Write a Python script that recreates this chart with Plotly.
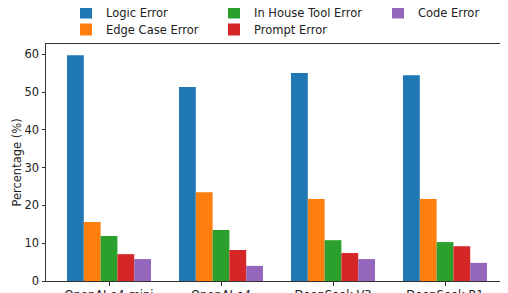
import plotly.graph_objects as go

models = ["OpenAI o4-mini", "OpenAI o4", "DeepSeek V3", "DeepSeek R1"]
logic_error = [59.7, 51.3, 55.0, 54.4]
edge_case_error = [15.6, 23.5, 21.7, 21.7]
in_house_tool_error = [11.9, 13.5, 10.8, 10.3]
prompt_error = [7.1, 8.2, 7.4, 9.2]
code_error = [5.8, 4.0, 5.8, 4.8]

series = [
    ("Logic Error", logic_error, "#1f77b4"),
    ("Edge Case Error", edge_case_error, "#ff7f0e"),
    ("In House Tool Error", in_house_tool_error, "#2ca02c"),
    ("Prompt Error", prompt_error, "#d62728"),
    ("Code Error", code_error, "#9467bd"),
]
# legend slots (matplotlib ncol=3, column-major): text left x, row
legend_slots = [(107, 0), (107, 1), (255, 0), (255, 1), (419, 0)]

FONT = "DejaVu Sans"
FS = 11.5
OFF = 8  # default page body margin
FW, FH = 508 - OFF, 293 - OFF
L, T, B = 46 - OFF, 44 - OFF, 281 - OFF
W = FW - L
H = B - T

fig = go.Figure()
legend_layout = {}
for i, (name, vals, color) in enumerate(series):
    lid = "legend" if i == 0 else f"legend{i + 1}"
    fig.add_trace(go.Bar(x=models, y=vals, name=name, marker_color=color,
                         marker_line_width=0, legend=lid))
    tx, row = legend_slots[i]
    cy = 8 + 17 * row - OFF
    legend_layout[lid] = dict(
        x=(tx - OFF - 41 - L) / W, y=(B - (cy - 10)) / H,
        xanchor="left", yanchor="top", orientation="v",
        font=dict(family=FONT, size=FS, color="#222"),
        bgcolor="rgba(0,0,0,0)")

fig.update_layout(
    width=FW, height=FH,
    margin=dict(l=L, r=0, t=T, b=FH - B, autoexpand=False),
    plot_bgcolor="white", paper_bgcolor="white",
    barmode="group", bargap=0.25, bargroupgap=0,
    font=dict(family=FONT, size=FS, color="#222"),
    showlegend=True,
    xaxis=dict(showline=True, linecolor="#333", linewidth=1, mirror=True,
               ticks="outside", ticklen=3.5, tickcolor="#333",
               range=[-0.5625, 3.5625], showgrid=False,
               tickfont=dict(family=FONT, size=FS, color="#222")),
    yaxis=dict(showline=True, linecolor="#333", linewidth=1,
               ticks="outside", ticklen=3.5, tickcolor="#333",
               range=[0, 62.7], dtick=10, showgrid=False, zeroline=False,
               tickfont=dict(family=FONT, size=FS, color="#222"),
               title=dict(text="Percentage (%)", standoff=0,
                          font=dict(family=FONT, size=FS, color="#222"))),
    **legend_layout,
)
fig.write_html("out.html")
